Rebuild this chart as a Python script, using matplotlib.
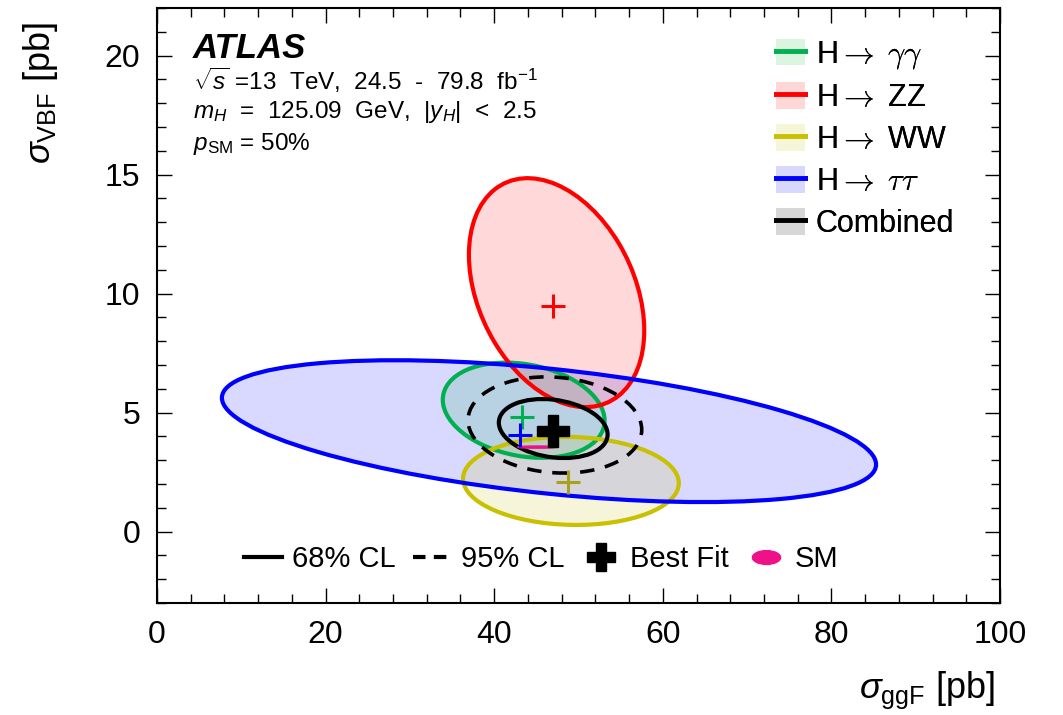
import numpy as np
import matplotlib
matplotlib.use('Agg')
import matplotlib.pyplot as plt
from matplotlib.patches import PathPatch, Patch
from matplotlib.lines import Line2D
from matplotlib.path import Path
from matplotlib.transforms import Affine2D
from matplotlib.legend_handler import HandlerTuple
from matplotlib.ticker import MultipleLocator

plt.rcParams['font.family'] = ['Liberation Sans', 'DejaVu Sans']
plt.rcParams['mathtext.fontset'] = 'custom'
plt.rcParams['mathtext.rm'] = 'Liberation Sans'
plt.rcParams['mathtext.it'] = 'Liberation Sans:italic'
plt.rcParams['mathtext.bf'] = 'Liberation Sans:bold'
plt.rcParams['mathtext.sf'] = 'Liberation Sans'

# per-channel 68% CL contours
channel_labels = [r'H$\rightarrow$ $\gamma\gamma$', r'H$\rightarrow$ ZZ',
                  r'H$\rightarrow$ WW', r'H$\rightarrow$ $\tau\tau$']
channel_colors = ['#00b050', '#ff0000', '#c8c000', '#0000ff']
marker_colors = ['#00b050', '#ff0000', '#a8a020', '#0000ff']
legend_fills = ['#dcf5e1', '#ffd7d7', '#f5f5d7', '#d7d7ff']
center_x = [43.5, 47.4, 49.1, 46.5]
center_y = [5.10, 10.04, 2.13, 4.22]
half_x = [9.6, 10.4, 12.8, 38.8]
half_y = [2.0, 4.81, 1.85, 2.98]
corr = [-0.22, -0.33, -0.05, -0.47]
bestfit_x = [43.3, 47.0, 48.8, 43.1]
bestfit_y = [4.82, 9.46, 2.09, 4.06]

# combined fit: 68% and 95% CL
comb68 = [47.0, 4.33, 6.45, 1.24, -0.2]
comb95 = [47.2, 4.48, 10.3, 2.02, -0.1]
comb_best = [47.0, 4.23]

# Standard Model prediction (very thin ellipse)
sm = [45.1, 3.55, 2.3, 0.04, 0.0]

x_range = [0, 100]
y_range = [-3, 22]
x_ticks = [0, 20, 40, 60, 80, 100]
y_ticks = [0, 5, 10, 15, 20]


def contour(ax, cx, cy, sx, sy, rho, **kw):
    """Ellipse with given x/y half extents and tilt, in data coords."""
    m = np.array([[sx, 0.0, cx],
                  [sy * rho, sy * np.sqrt(1 - rho ** 2), cy],
                  [0.0, 0.0, 1.0]])
    patch = PathPatch(Path.unit_circle(),
                      transform=Affine2D(m) + ax.transData, **kw)
    ax.add_patch(patch)
    return patch


fig = plt.figure(figsize=(10.63, 7.15), dpi=100)
ax = fig.add_axes([157 / 1063, 1 - 603 / 715, 843 / 1063, 595 / 715])
ax.set_xlim(x_range)
ax.set_ylim(y_range)

# fills first, then outlines
for i in [3, 0, 1, 2]:
    contour(ax, center_x[i], center_y[i], half_x[i], half_y[i], corr[i],
            facecolor=channel_colors[i], alpha=0.15, edgecolor='none',
            zorder=1)
for i in [0, 1, 2, 3]:
    contour(ax, center_x[i], center_y[i], half_x[i], half_y[i], corr[i],
            facecolor='none', edgecolor=channel_colors[i], lw=3, zorder=2)

contour(ax, *comb95, facecolor='none', edgecolor='black', lw=2.6,
        linestyle=(0, (4, 3)), zorder=3)
contour(ax, *comb68, facecolor='none', edgecolor='black', lw=3, zorder=3)
contour(ax, *sm, facecolor='#ee1188', edgecolor='#ee1188', lw=1.2, zorder=4)

for i in range(4):
    ax.plot(bestfit_x[i], bestfit_y[i], marker='+', ms=17, mew=2.2,
            color=marker_colors[i], zorder=5)
ax.plot(comb_best[0], comb_best[1], marker='P', ms=23, color='black',
        mec='black', zorder=6)

ax.set_xticks(x_ticks)
ax.set_yticks(y_ticks)
ax.xaxis.set_minor_locator(MultipleLocator(4))
ax.yaxis.set_minor_locator(MultipleLocator(1))
ax.tick_params(which='both', direction='in', top=True, right=True,
               labelsize=23, width=1)
ax.tick_params(which='major', length=11)
ax.tick_params(which='minor', length=6.5)
ax.tick_params(axis='x', pad=12)
ax.tick_params(axis='y', pad=12)
for s in ax.spines.values():
    s.set_linewidth(1.5)

fig.text(40 / 1063, 1 - 22 / 715, r'$\sigma_{\mathsf{ VBF}}$ [pb]',
         fontsize=26, rotation=90, ha='center', va='top',
         math_fontfamily='custom')
fig.text(995 / 1063, 1 - 690 / 715, r'$\sigma_{\mathsf{ ggF}}$ [pb]',
         fontsize=26, ha='right', va='center', math_fontfamily='custom')

fig.text(193 / 1063, 1 - 48 / 715, 'ATLAS', fontsize=25,
         fontweight='bold', fontstyle='italic', va='center')
fig.text(193 / 1063, 1 - 80 / 715,
         r'$\sqrt{s}$ =13  TeV,  24.5  -  79.8  fb$^{-1}$', fontsize=17.5,
         va='center')
fig.text(193 / 1063, 1 - 112 / 715,
         r'$m_H$  =  125.09  GeV,  $|y_H|$  <  2.5', fontsize=17.5,
         va='center')
fig.text(193 / 1063, 1 - 144 / 715, r'$p_{\rm SM}$ = 50%', fontsize=17.5,
         va='center')

# channel legend (top right): light box with the contour colour through it
handles = []
for i in range(4):
    handles.append((Patch(facecolor=legend_fills[i], edgecolor='none'),
                    Line2D([], [], color=channel_colors[i], lw=3.5)))
handles.append((Patch(facecolor='#d7d7d7', edgecolor='none'),
                Line2D([], [], color='black', lw=3.5)))
labels = channel_labels + ['Combined']
leg = ax.legend(handles, labels, handler_map={tuple: HandlerTuple(ndivide=1)},
                loc='upper left', bbox_to_anchor=(776 / 1063, 1 - 39 / 715),
                bbox_transform=fig.transFigure, frameon=False, fontsize=22,
                handlelength=0.95, handleheight=0.95, labelspacing=0.37,
                handletextpad=0.35, borderpad=0, borderaxespad=0)
for t in leg.get_texts():
    t.set_math_fontfamily('cm')
ax.add_artist(leg)

# CL / best fit / SM legend (bottom)
sm_marker = Path.unit_circle().transformed(Affine2D().scale(1.9, 1.0))
cl_handles = [Line2D([], [], color='black', lw=3),
              Line2D([], [], color='black', lw=3, linestyle=(0, (3, 2))),
              Line2D([], [], color='black', marker='P', ms=20, lw=0),
              Line2D([], [], color='#ee1188', marker=sm_marker, ms=22, lw=0,
                     mec='white', mew=0.6)]
cl_labels = ['68% CL', '95% CL', 'Best Fit', 'SM']
fig.legend(cl_handles, cl_labels, loc='center left',
           bbox_to_anchor=(244 / 1063, 1 - 559 / 715), ncol=4, frameon=False,
           fontsize=21, handlelength=1.3, handletextpad=0.35,
           columnspacing=0.6, borderpad=0, borderaxespad=0)

fig.savefig('out.png', dpi=100)
